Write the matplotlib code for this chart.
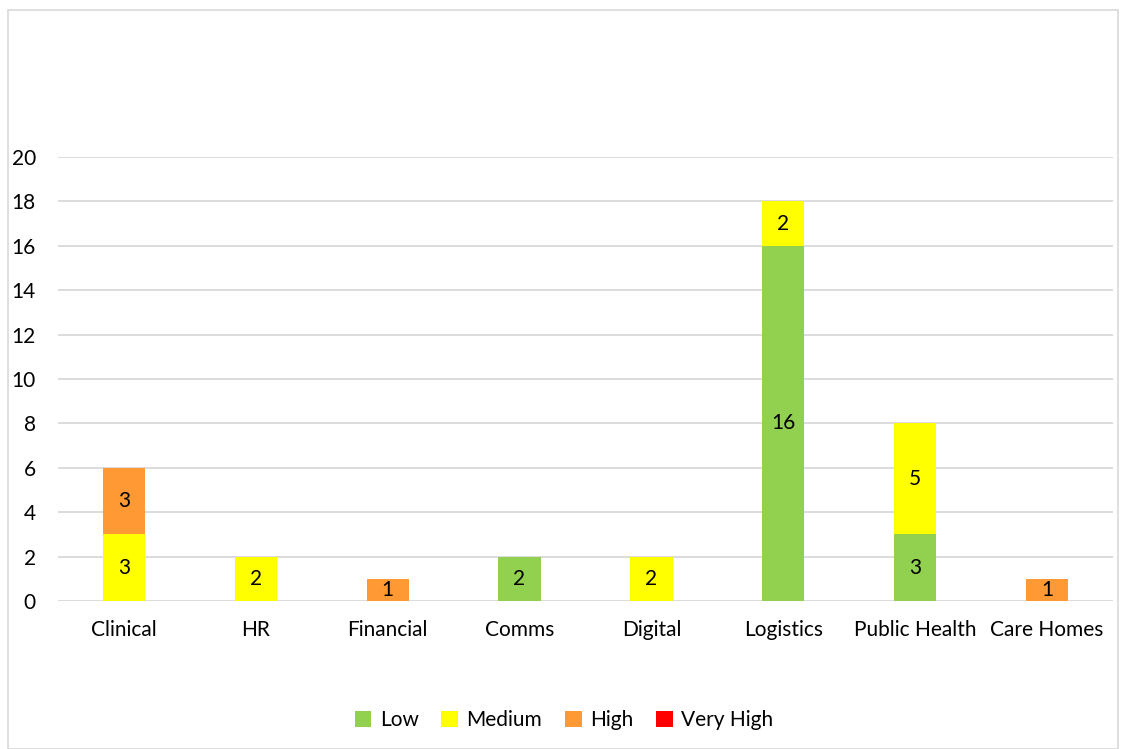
import matplotlib
matplotlib.use('Agg')
import numpy as np
from matplotlib import pyplot as plt
from matplotlib.patches import Rectangle

plt.rcParams['font.family'] = ['Lato', 'DejaVu Sans']

categories = ['Clinical', 'HR', 'Financial', 'Comms', 'Digital',
              'Logistics', 'Public Health', 'Care Homes']
low = [0, 0, 0, 2, 0, 16, 3, 0]
medium = [3, 2, 0, 0, 2, 2, 5, 0]
high = [3, 0, 1, 0, 0, 0, 0, 1]
very_high = [0, 0, 0, 0, 0, 0, 0, 0]

series = [('Low', low, '#92D050'),
          ('Medium', medium, '#FFFF00'),
          ('High', high, '#FF9933'),
          ('Very High', very_high, '#FF0000')]

fig = plt.figure(figsize=(11.28, 7.49), dpi=100)
ax = fig.add_axes([58 / 1128, 148 / 749, (1113 - 58) / 1128, 444 / 749])

# chart border
fig.patches.append(Rectangle((8 / 1128, 0), 1110 / 1128, 739 / 749,
                             transform=fig.transFigure, fill=False,
                             edgecolor='#D9D9D9', linewidth=1.2))

x = np.arange(len(categories))
bottom = np.zeros(len(categories))
for name, vals, color in series:
    vals = np.array(vals)
    bars = ax.bar(x, vals, 0.32, bottom=bottom, color=color, label=name, zorder=3)
    for b, v, base in zip(bars, vals, bottom):
        if v > 0:
            ax.text(b.get_x() + b.get_width() / 2, base + v / 2, str(v),
                    ha='center', va='center', fontsize=15, color='black', zorder=4)
    bottom = bottom + vals

ax.set_xlim(-0.5, len(categories) - 0.5)
ax.set_ylim(0, 20)
ax.set_yticks(range(0, 21, 2))
ax.set_xticks(x)
ax.set_xticklabels(categories)
ax.yaxis.grid(True, color='#D9D9D9', linewidth=1.3, zorder=0)
ax.set_axisbelow(True)
for s in ax.spines.values():
    s.set_visible(False)
ax.tick_params(axis='both', length=0, labelsize=15, colors='black')
ax.tick_params(axis='x', pad=14)
ax.tick_params(axis='y', pad=16)

fig.legend(loc='center', bbox_to_anchor=(0.5, 1 - 720 / 749), ncol=4,
           frameon=False, fontsize=15, handlelength=0.8, handleheight=0.8,
           handletextpad=0.4, columnspacing=1.1)

fig.savefig('out.png', dpi=100)
